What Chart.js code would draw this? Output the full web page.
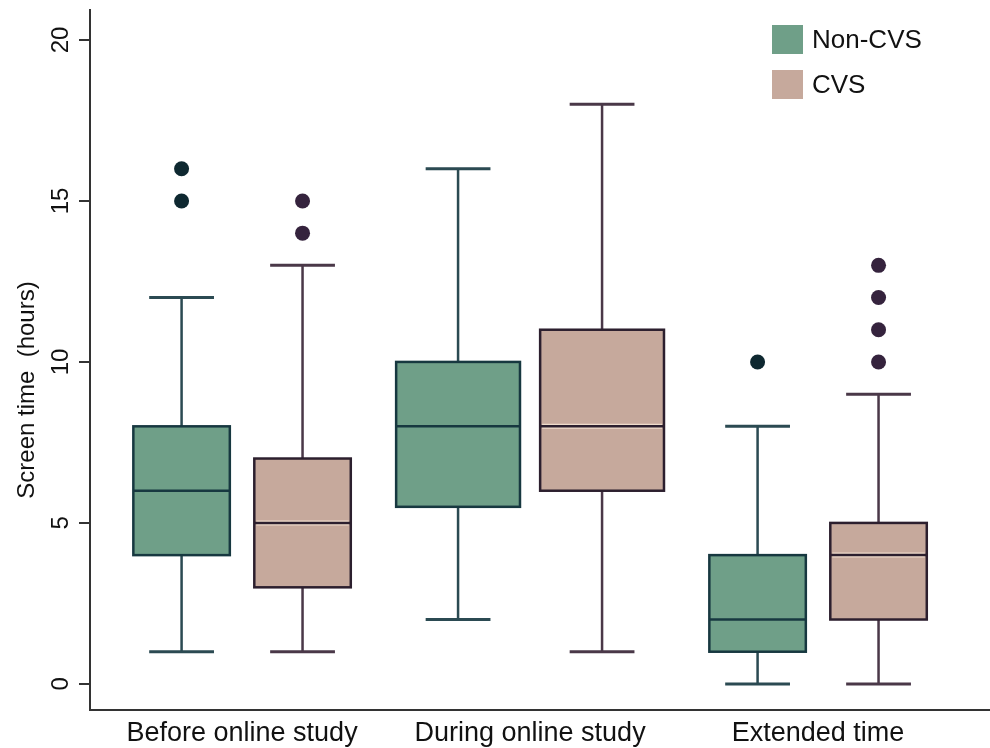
<!DOCTYPE html>
<html>
<head>
<meta charset="utf-8">
<script src="https://cdn.jsdelivr.net/npm/chart.js@4/dist/chart.umd.min.js"></script>
<style>
html, body { margin: 0; padding: 0; background: #fff; }
</style>
</head>
<body>
<canvas id="chart" width="990" height="748"></canvas>
<script>
const categories = ['Before online study', 'During online study', 'Extended time'];
const yTicks = [0, 5, 10, 15, 20];

// box stats per category (whisker low, q1, median, q3, whisker high)
const nonCvsMin = [1, 2, 0];
const nonCvsQ1 = [4, 5.5, 1];
const nonCvsMedian = [6, 8, 2];
const nonCvsQ3 = [8, 10, 4];
const nonCvsMax = [12, 16, 8];
const nonCvsOutliers = [[15, 16], [], [10]];

const cvsMin = [1, 1, 0];
const cvsQ1 = [3, 6, 2];
const cvsMedian = [5, 8, 4];
const cvsQ3 = [7, 11, 5];
const cvsMax = [13, 18, 9];
const cvsOutliers = [[14, 15], [], [10, 11, 12, 13]];

// layout of the boxes inside each category, in x-axis units
const boxOffset = [0.21, 0.25, 0.21];
const boxWidth = [0.335, 0.43, 0.335];
const capWidth = 0.225;

const FONT = '"Liberation Sans", Arial, sans-serif';

function outlierPoints(outliers, side) {
    const pts = [];
    outliers.forEach((vals, g) => {
        vals.forEach(v => pts.push({x: g + side * boxOffset[g], y: v}));
    });
    return pts;
}

const datasets = [
    {
        label: 'Non-CVS',
        data: outlierPoints(nonCvsOutliers, -1),
        side: -1,
        stats: {min: nonCvsMin, q1: nonCvsQ1, median: nonCvsMedian, q3: nonCvsQ3, max: nonCvsMax},
        boxFill: '#6f9f88',
        boxLine: '#173840',
        whiskerLine: '#2b4a52',
        medianHalo: null,
        backgroundColor: '#0e2830',
        borderColor: '#0e2830',
        pointRadius: 7.5,
        pointBorderWidth: 0,
    },
    {
        label: 'CVS',
        data: outlierPoints(cvsOutliers, 1),
        side: 1,
        stats: {min: cvsMin, q1: cvsQ1, median: cvsMedian, q3: cvsQ3, max: cvsMax},
        boxFill: '#c6a99c',
        boxLine: '#2c1f2e',
        whiskerLine: '#4a3848',
        medianHalo: '#efdccb',
        backgroundColor: '#35233d',
        borderColor: '#35233d',
        pointRadius: 7.5,
        pointBorderWidth: 0,
    },
];

const boxPlugin = {
    id: 'boxes',
    beforeDatasetsDraw(chart) {
        const ctx = chart.ctx;
        const xs = chart.scales.x;
        const ys = chart.scales.y;
        chart.data.datasets.forEach(ds => {
            const s = ds.stats;
            categories.forEach((c, g) => {
                const xc = xs.getPixelForValue(g + ds.side * boxOffset[g]);
                const half = (xs.getPixelForValue(boxWidth[g]) - xs.getPixelForValue(0)) / 2;
                const capHalf = (xs.getPixelForValue(capWidth) - xs.getPixelForValue(0)) / 2;
                const yMin = ys.getPixelForValue(s.min[g]);
                const yQ1 = ys.getPixelForValue(s.q1[g]);
                const yMed = ys.getPixelForValue(s.median[g]);
                const yQ3 = ys.getPixelForValue(s.q3[g]);
                const yMax = ys.getPixelForValue(s.max[g]);

                ctx.save();
                // whiskers
                ctx.strokeStyle = ds.whiskerLine;
                ctx.lineWidth = 2.5;
                ctx.beginPath();
                ctx.moveTo(xc, yMax); ctx.lineTo(xc, yQ3);
                ctx.moveTo(xc, yQ1); ctx.lineTo(xc, yMin);
                ctx.stroke();
                ctx.lineWidth = 3;
                ctx.beginPath();
                ctx.moveTo(xc - capHalf, yMax); ctx.lineTo(xc + capHalf, yMax);
                ctx.moveTo(xc - capHalf, yMin); ctx.lineTo(xc + capHalf, yMin);
                ctx.stroke();

                // box
                ctx.fillStyle = ds.boxFill;
                ctx.fillRect(xc - half, yQ3, half * 2, yQ1 - yQ3);
                ctx.strokeStyle = ds.boxLine;
                ctx.lineWidth = 2.5;
                ctx.strokeRect(xc - half, yQ3, half * 2, yQ1 - yQ3);

                // median
                if (ds.medianHalo) {
                    ctx.strokeStyle = ds.medianHalo;
                    ctx.lineWidth = 5;
                    ctx.beginPath();
                    ctx.moveTo(xc - half + 2, yMed); ctx.lineTo(xc + half - 2, yMed);
                    ctx.stroke();
                }
                ctx.strokeStyle = ds.boxLine;
                ctx.lineWidth = 2.5;
                ctx.beginPath();
                ctx.moveTo(xc - half, yMed); ctx.lineTo(xc + half, yMed);
                ctx.stroke();
                ctx.restore();
            });
        });
    },
    afterDraw(chart) {
        const ctx = chart.ctx;
        const ys = chart.scales.y;
        ctx.save();
        ctx.fillStyle = '#111';
        ctx.textAlign = 'center';
        ctx.textBaseline = 'middle';

        // rotated y tick labels
        ctx.font = '24px ' + FONT;
        ys.ticks.forEach(t => {
            ctx.save();
            ctx.translate(61, ys.getPixelForValue(t.value));
            ctx.rotate(-Math.PI / 2);
            ctx.fillText(String(t.value), 0, 0);
            ctx.restore();
        });

        // y axis title
        ctx.font = '24px ' + FONT;
        ctx.save();
        ctx.translate(27, 390);
        ctx.rotate(-Math.PI / 2);
        ctx.fillText('Screen time  (hours)', 0, 0);
        ctx.restore();

        // legend
        ctx.font = '26px ' + FONT;
        ctx.textAlign = 'left';
        chart.data.datasets.forEach((ds, i) => {
            const top = 25 + i * 45;
            ctx.fillStyle = ds.boxFill;
            ctx.fillRect(772, top, 31, 29);
            ctx.fillStyle = '#111';
            ctx.fillText(ds.label, 812, top + 16);
        });
        ctx.restore();
    }
};

new Chart(document.getElementById('chart'), {
    type: 'scatter',
    data: {datasets: datasets},
    plugins: [boxPlugin],
    options: {
        responsive: false,
        animation: false,
        devicePixelRatio: 1,
        layout: {autoPadding: false, padding: {top: 10, right: 0, bottom: 0, left: 0}},
        plugins: {
            legend: {display: false},
            tooltip: {enabled: false},
        },
        scales: {
            x: {
                type: 'linear',
                min: -0.528,
                max: 2.597,
                afterBuildTicks: scale => {
                    scale.ticks = categories.map((c, i) => ({value: i}));
                },
                afterFit: scale => {
                    scale.height = 38;
                    scale.paddingLeft = 0;
                    scale.paddingRight = 0;
                },
                ticks: {
                    callback: v => categories[v],
                    font: {size: 27, family: FONT},
                    color: '#111',
                    padding: 7,
                    maxRotation: 0,
                    autoSkip: false,
                },
                grid: {display: false, drawTicks: false},
                border: {display: true, color: '#333', width: 2},
            },
            y: {
                type: 'linear',
                min: -0.81,
                max: 20.93,
                afterBuildTicks: scale => {
                    scale.ticks = yTicks.map(v => ({value: v}));
                },
                afterFit: scale => {
                    scale.width = 90;
                    scale.paddingTop = 0;
                    scale.paddingBottom = 0;
                },
                ticks: {display: false},
                grid: {
                    drawOnChartArea: false,
                    drawTicks: true,
                    tickLength: 11,
                    color: '#333',
                    lineWidth: 2,
                },
                border: {display: true, color: '#333', width: 2},
            },
        },
    },
});
</script>
</body>
</html>
